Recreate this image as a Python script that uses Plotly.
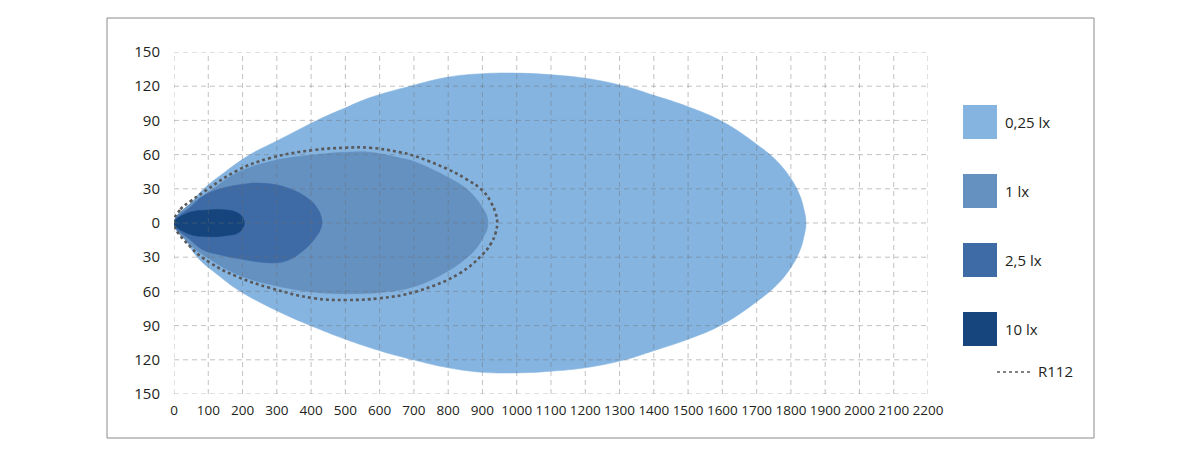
import plotly.graph_objects as go

# ---------------- data ----------------
x_ticks = list(range(0, 2201, 100))
y_ticks = [-150, -120, -90, -60, -30, 0, 30, 60, 90, 120, 150]
y_tick_text = [str(abs(v)) for v in y_ticks]

# 0,25 lx isolux contour
lx025_top_x = [0, 37, 87, 150, 222, 300, 417, 500, 572, 689, 800, 900, 1000, 1100, 1200, 1315, 1400, 1500, 1600, 1700, 1760, 1800, 1825, 1838, 1844]
lx025_top_y = [0, 13, 30, 45, 60, 72, 90, 101, 110, 120, 128, 131, 131.5, 130, 127, 120, 112, 102, 89, 69, 54, 39, 25, 12, 0]
lx025_bot_x = [0, 30, 68, 130, 194, 300, 398, 500, 600, 698, 800, 900, 1000, 1100, 1200, 1315, 1400, 1500, 1600, 1700, 1760, 1800, 1825, 1838, 1844]
lx025_bot_y = [0, -13, -30, -46, -60, -77, -90, -102, -112, -120, -127, -131, -131.5, -130, -127, -120, -112, -102, -89, -69, -54, -39, -25, -12, 0]

# 1 lx
lx1_top_x = [0, 48, 100, 184, 281, 417, 500, 572, 660, 700, 800, 849, 880, 903, 913, 916]
lx1_top_y = [0, 17, 27, 44, 54, 60, 62, 62, 57, 54, 40, 31, 22, 12, 6, 0]
lx1_bot_x = [0, 48, 106, 184, 281, 417, 520, 600, 699, 800, 844, 880, 903, 913, 916]
lx1_bot_y = [0, -19, -32, -45, -54, -61, -62, -61, -56, -42, -33, -23, -12, -6, 0]

# 2,5 lx
lx25_top_x = [0, 48, 87, 135, 203, 252, 330, 398, 420, 429, 432]
lx25_top_y = [0, 14, 24, 30, 34, 35, 31, 20, 12, 6, 0]
lx25_bot_x = [0, 48, 87, 135, 184, 281, 330, 378, 410, 427, 432]
lx25_bot_y = [0, -15, -24, -28, -31, -35, -33, -24, -14, -6, 0]

# 10 lx
lx10_top_x = [0, 38, 97, 155, 185, 200, 205]
lx10_top_y = [0, 8.5, 11.4, 11.4, 9, 5, 0]
lx10_bot_x = [0, 38, 97, 155, 185, 200, 205]
lx10_bot_y = [0, -9, -12, -11, -9, -5, 0]

# R112 reference contour (dotted)
r112_top_x = [0, 19, 48, 88, 184, 281, 407, 500, 572, 660, 700, 800, 850, 902, 925, 938, 943]
r112_top_y = [0, 12, 19, 27.5, 46, 57, 64, 66, 66, 62, 59, 47, 39, 28, 18, 9, 0]
r112_bot_x = [0, 48, 106, 184, 281, 407, 504, 600, 708, 834, 902, 925, 938, 943]
r112_bot_y = [0, -21, -35, -47, -57, -66, -67.5, -66, -60, -44, -27, -18, -9, 0]

series_names = ["0,25 lx", "1 lx", "2,5 lx", "10 lx"]
series_colors = ["#85b4e0", "#6591c1", "#3e6ba6", "#15457c"]
contour_name = "R112"

# ---------------- figure ----------------
W, H = 1200, 450
ML, MR, MT, MB = 174, 272, 52, 56
PW, PH = W - ML - MR, H - MT - MB


def px(xp):
    return (xp - ML) / PW


def py(yp):
    return (H - MB - yp) / PH


def closed(tx, ty, bx, by):
    return tx + bx[::-1][1:], ty + by[::-1][1:]


fig = go.Figure()
contours = [
    (lx025_top_x, lx025_top_y, lx025_bot_x, lx025_bot_y),
    (lx1_top_x, lx1_top_y, lx1_bot_x, lx1_bot_y),
    (lx25_top_x, lx25_top_y, lx25_bot_x, lx25_bot_y),
    (lx10_top_x, lx10_top_y, lx10_bot_x, lx10_bot_y),
]
for (tx, ty, bx, by), name, col in zip(contours, series_names, series_colors):
    xs, ys = closed(tx, ty, bx, by)
    fig.add_trace(go.Scatter(
        x=xs, y=ys, mode="lines", fill="toself", fillcolor=col,
        line=dict(color=col, width=0.5, shape="spline", smoothing=1.2),
        name=name, hoverinfo="skip", showlegend=False))

xs, ys = closed(r112_top_x, r112_top_y, r112_bot_x, r112_bot_y)
fig.add_trace(go.Scatter(
    x=xs, y=ys, mode="lines",
    line=dict(color="#58595b", width=2.6, dash="dot", shape="spline", smoothing=1.2),
    name=contour_name, hoverinfo="skip", showlegend=False))

shapes = []
grid_style = dict(color="rgba(110,110,110,0.42)", width=1, dash="5px,4px")
for v in x_ticks:
    shapes.append(dict(type="line", xref="x", yref="y", x0=v, x1=v,
                       y0=y_ticks[0], y1=y_ticks[-1], line=grid_style, layer="above"))
for v in y_ticks:
    shapes.append(dict(type="line", xref="x", yref="y", x0=x_ticks[0], x1=x_ticks[-1],
                       y0=v, y1=v, line=grid_style, layer="above"))

# outer frame
shapes.append(dict(type="rect", xref="paper", yref="paper",
                   x0=px(107), x1=px(1094), y0=py(438), y1=py(18),
                   line=dict(color="#8a8a8a", width=1), layer="below"))

# manual legend
annotations = []
legend_centers = [122, 191, 260, 329]
for name, col, cy in zip(series_names, series_colors, legend_centers):
    shapes.append(dict(type="rect", xref="paper", yref="paper",
                       x0=px(963), x1=px(997), y0=py(cy + 17), y1=py(cy - 17),
                       fillcolor=col, line=dict(width=0)))
    annotations.append(dict(xref="paper", yref="paper", x=px(1003), y=py(cy),
                            text=name, showarrow=False, xanchor="left", yanchor="middle",
                            font=dict(size=15, color="#231f20")))
shapes.append(dict(type="line", xref="paper", yref="paper",
                   x0=px(997), x1=px(1032), y0=py(372), y1=py(372),
                   line=dict(color="#58595b", width=1.5, dash="dot")))
annotations.append(dict(xref="paper", yref="paper", x=px(1036), y=py(371),
                        text=contour_name, showarrow=False, xanchor="left", yanchor="middle",
                        font=dict(size=15, color="#231f20")))

font_family = "Open Sans, Noto Sans, sans-serif"
fig.update_layout(
    width=W, height=H,
    margin=dict(l=ML, r=MR, t=MT, b=MB, pad=0),
    paper_bgcolor="white", plot_bgcolor="white",
    font=dict(family=font_family, size=15, color="#231f20"),
    shapes=shapes, annotations=annotations,
    showlegend=False,
    xaxis=dict(range=[x_ticks[0], x_ticks[-1]], tickmode="array", tickvals=x_ticks,
               ticktext=[str(v) for v in x_ticks], showgrid=False, zeroline=False,
               showline=False, ticks="", ticklabelstandoff=6, tickangle=0,
               tickfont=dict(size=13.5, color="#231f20")),
    yaxis=dict(range=[y_ticks[0], y_ticks[-1]], tickmode="array", tickvals=y_ticks,
               ticktext=y_tick_text, showgrid=False, zeroline=False,
               showline=False, ticks="", ticklabelstandoff=13,
               tickfont=dict(size=15, color="#231f20")),
)

fig.write_html("out.html", config={"displayModeBar": False},
               post_script="document.body.style.margin='0';")
